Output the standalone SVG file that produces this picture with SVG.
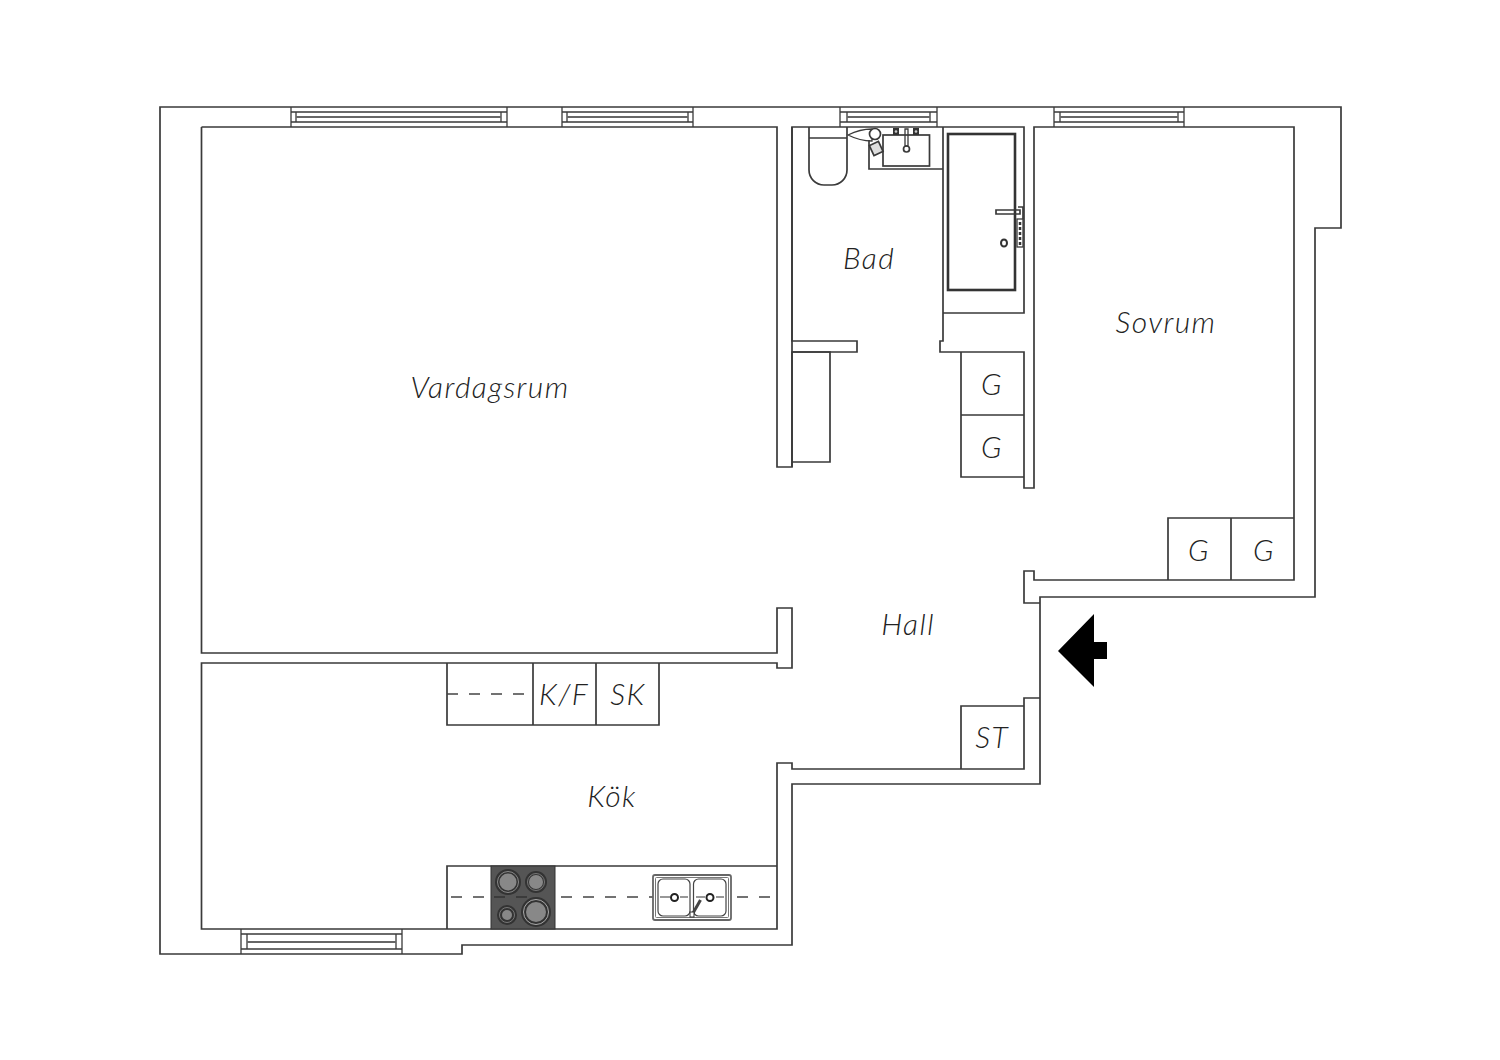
<svg xmlns="http://www.w3.org/2000/svg" width="1500" height="1060" viewBox="0 0 1500 1060">
<style>
.l{fill:none;stroke:#3a3a3a;stroke-width:1.7;stroke-linejoin:miter}
.t{fill:none;stroke:#3a3a3a;stroke-width:1.3}
.g{fill:none;stroke:#666;stroke-width:2.200}
.d{fill:none;stroke:#444;stroke-width:1.300;stroke-dasharray:11 11}
.lb{font-family:"Lato","Liberation Sans",sans-serif;font-style:italic;font-weight:300;font-size:30px;letter-spacing:1.400px;fill:#222;text-anchor:middle}
</style>
<rect width="1500" height="1060" fill="#fff"/>
<g id="walls" class="l">
<path d="M160 107H1341V228H1315V597H1040V784H792V945H462V954H160Z"/>
<path d="M201.500 127H777V467H792V127H1024V313H943V127M943 313V341H940V352H1024V488H1034V127H1294V580H1034V571H1024V603H1040"/>
<path d="M792 127V341H857V352H792V467"/>
<path d="M201.500 127V653H777V608H792V668H777V663H201.500V929H777V763H792V769H1024V698H1040"/>
</g>
<g id="windows">
<g class="t"><path d="M291 107V127M507 107V127M291 112H507M291 122H507M296 112V122M501 112V122"/>
<path d="M562 107V127M693 107V127M562 112H693M562 122H693M567 112V122M688 112V122"/>
<path d="M840 107V127M937 107V127M840 112H937M840 122H937M847 112V122M930 112V122"/>
<path d="M1054 107V127M1184 107V127M1054 112H1184M1054 122H1184M1060 112V122M1178 112V122"/>
<path d="M241 929V954M402 929V954M241 934H402M241 949H402M247 934V949M396 934V949"/></g>
<g class="g"><path d="M296 117H501M567 117H688M847 117H930M1060 117H1178M247 942H396"/></g>
</g>
<g id="bad">
<path class="l" d="M809 127V170A15 15 0 0 0 824 185H832A15 15 0 0 0 847 170V127M809 138H847"/>
<path class="l" d="M869 140V169H943"/>
<rect class="l" x="883" y="135" width="46.500" height="31"/>
<rect x="893" y="128" width="6" height="7" fill="#333"/><rect x="913" y="128" width="6" height="7" fill="#333"/>
<circle cx="896" cy="131.500" r="1.300" fill="#ccc"/><circle cx="916" cy="131.500" r="1.300" fill="#ccc"/>
<path class="t" d="M905 129V146H908V129Z" fill="#fff"/><circle class="l" cx="906.500" cy="149" r="3" fill="#fff"/>
<path class="t" d="M848 135Q860 129 872 129V141Q860 141 848 135Z"/>
<circle cx="875" cy="134" r="5.500" fill="#fff" stroke="#3a3a3a" stroke-width="1.700"/>
<rect x="871" y="143" width="10" height="11" transform="rotate(-25 876 148)" fill="#ddd" stroke="#3a3a3a" stroke-width="1.700"/>
<rect x="948" y="134" width="67" height="156" fill="none" stroke="#333" stroke-width="2.600"/>
<path class="l" d="M996 210H1020V214H996ZM1018 207H1023V219"/>
<rect class="t" x="1017" y="219" width="6" height="28"/>
<path d="M1020 222V245" stroke="#333" stroke-width="2.500" stroke-dasharray="3 2"/>
<ellipse cx="1004" cy="243" rx="3" ry="3.500" fill="#fff" stroke="#333" stroke-width="2"/>
<text class="lb" x="869" y="269">Bad</text>
</g>
<g id="forrad"><path class="l" d="M792 352H830V462H792"/></g>
<g id="garderob1"><path class="l" d="M961 352V477H1024M961 415H1024"/>
<text class="lb" x="992" y="395">G</text><text class="lb" x="992" y="458">G</text></g>
<g id="garderob2"><path class="l" d="M1168 580V518H1294M1231 518V580"/>
<text class="lb" x="1199" y="561">G</text><text class="lb" x="1264" y="561">G</text></g>
<g id="forvaring"><path class="l" d="M961 769V706H1024"/><text class="lb" x="992" y="748">ST</text></g>
<g id="vitvaror"><path class="l" d="M447 663V725H659V663M533 663V725M596 663V725"/>
<path class="d" d="M447 694H533"/>
<text class="lb" x="564" y="705">K/F</text><text class="lb" x="628" y="705">SK</text></g>
<g id="kok">
<path class="l" d="M447 929V866H777"/>
<path class="d" d="M451 897H777"/>
<rect x="491" y="866" width="64" height="63" fill="#555" stroke="#333"/>
<path d="M494 897H505M516 897H527" stroke="#222" stroke-width="1.200"/>
<circle cx="508" cy="882" r="13" fill="#333"/><circle cx="508" cy="882" r="10.500" fill="none" stroke="#888"/><circle cx="508" cy="882" r="8.500" fill="#888"/>
<circle cx="536" cy="882" r="11" fill="#333"/><circle cx="536" cy="882" r="8.500" fill="none" stroke="#777"/><circle cx="536" cy="882" r="7" fill="#888"/>
<circle cx="507" cy="915" r="10" fill="#333"/><circle cx="507" cy="915" r="7.500" fill="none" stroke="#777"/><circle cx="507" cy="915" r="5" fill="#888"/>
<circle cx="536" cy="912" r="15" fill="#333"/><circle cx="536" cy="912" r="12.500" fill="none" stroke="#aaa"/><circle cx="536" cy="912" r="10" fill="#888"/>
<rect x="653" y="875" width="78" height="45" rx="2" fill="#fff" stroke="#666" stroke-width="1.800"/>
<rect x="655.500" y="877.500" width="73" height="40" rx="1" fill="none" stroke="#777"/>
<rect x="658" y="879" width="32" height="37" rx="5" fill="#fff" stroke="#444" stroke-width="1.200"/>
<rect x="693.500" y="879" width="32.500" height="37" rx="5" fill="#fff" stroke="#444" stroke-width="1.200"/>
<path d="M660 897H670M680 897H688M696 897H705M716 897H724" stroke="#333" stroke-width="1.200"/>
<circle cx="674.500" cy="897.500" r="3.500" fill="#fff" stroke="#222" stroke-width="2"/>
<circle cx="710" cy="897.500" r="3.500" fill="#fff" stroke="#222" stroke-width="2"/>
<path d="M692.500 914L700.500 900" stroke="#444" stroke-width="3"/>
<rect x="690" y="912" width="4" height="5" fill="#fff" stroke="#333"/>
<text class="lb" x="612" y="807">Kök</text>
</g>
<g id="vardagsrum"><text class="lb" x="490" y="398">Vardagsrum</text></g>
<g id="sovrum"><text class="lb" x="1166" y="333">Sovrum</text></g>
<g id="hall"><text class="lb" x="908" y="635">Hall</text></g>
<g id="entre"><path d="M1058 651L1094 614V642H1107V659H1094V687Z" fill="#000"/></g>
</svg>
